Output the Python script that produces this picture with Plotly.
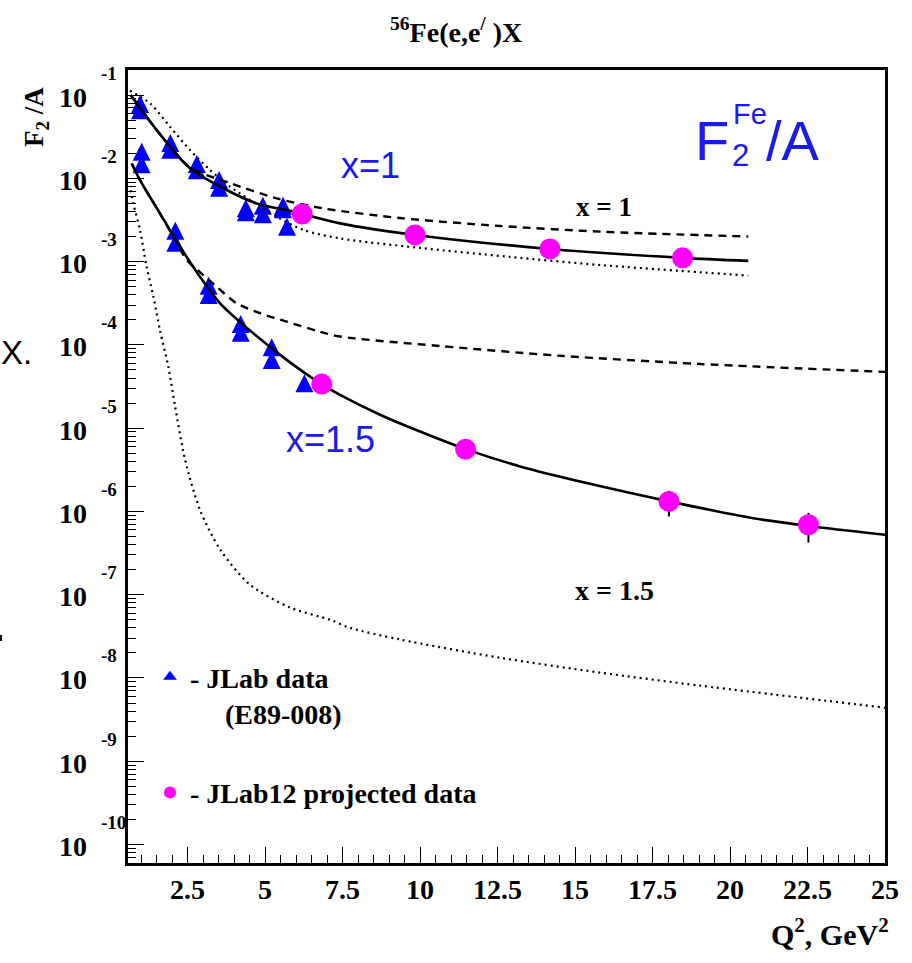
import math
import plotly.graph_objects as go

# ---------------- data ----------------
# JLab data (E89-008), blue triangles
jlab_q2 = [0.97, 0.97, 1.945, 1.945, 2.80, 2.80, 3.52, 3.52, 4.38, 4.38, 4.93, 4.93,
           5.58, 5.58, 5.71,
           1.02, 1.02, 2.106, 2.106, 3.18, 3.18, 4.215, 4.215, 5.215, 5.215, 6.27]
jlab_f2 = [0.0782, 0.0657, 0.0266, 0.0221, 0.0149, 0.0125, 0.00955, 0.00773,
           0.00438, 0.00391, 0.0047, 0.0037, 0.0047, 0.00426, 0.00263,
           0.0209, 0.01476, 0.00235, 0.00169, 5.14e-4, 3.98e-4, 1.78e-4, 1.40e-4,
           9.35e-5, 6.59e-5, 3.46e-5]

# JLab12 projected data, magenta circles
proj_q2 = [6.20, 9.84, 14.19, 18.47, 6.83, 11.47, 18.03, 22.53]
proj_f2 = [0.00373, 0.00209, 0.00142, 0.00111, 3.38e-5, 5.6e-6, 1.32e-6, 6.92e-7]
proj_err = [0, 0, 0, 0, 0, 0, 4.5e-7, 2.7e-7]

# x = 1 curves
x1_solid_q2 = [0.667, 1.506, 2.58, 3.654, 4.73, 5.91, 7.42, 9.84, 14.19, 18.48, 20.59]
x1_solid_f2 = [0.1, 0.038, 0.0132, 0.0076, 0.0050, 0.0040, 0.00288, 0.00209, 0.00142, 0.00111, 0.00102]
x1_dash_q2 = [0.667, 1.506, 2.58, 3.87, 5.38, 6.87, 9.35, 12.58, 15.81, 20.59]
x1_dash_f2 = [0.1, 0.038, 0.0136, 0.00879, 0.00575, 0.00436, 0.00334, 0.00268, 0.00229, 0.00200]
x1_dot_q2 = [0.645, 1.29, 1.935, 2.58, 3.225, 3.87, 4.515, 5.375, 6.235, 7.42, 10.0, 12.9, 15.81, 20.59]
x1_dot_f2 = [0.1127, 0.0795, 0.0417, 0.0219, 0.01259, 0.00794, 0.0055, 0.00347, 0.0024, 0.0019,
             0.00146, 0.00114, 0.00091, 0.00068]

# x = 1.5 curves
x15_solid_q2 = [0.70, 0.967, 1.61, 2.26, 2.90, 3.55, 4.62, 5.70, 6.77, 7.42, 8.71, 10.0, 11.47,
                13.23, 15.38, 18.03, 20.75, 22.53, 25.0]
x15_solid_f2 = [0.0151, 0.00955, 0.0038, 0.00151, 6.6e-4, 3.16e-4, 1.38e-4, 6.6e-5, 3.47e-5, 2.51e-5,
                1.45e-5, 9.1e-6, 5.6e-6, 3.47e-6, 2.19e-6, 1.32e-6, 8.3e-7, 6.7e-7, 5.25e-7]
x15_dash_q2 = [0.70, 0.967, 1.61, 2.10, 2.47, 2.90, 3.44, 4.085, 4.84, 5.70, 6.77, 7.42, 10.64,
               14.52, 19.03, 25.0]
x15_dash_f2 = [0.0151, 0.00955, 0.0038, 0.00182, 0.00105, 7.5e-4, 5.0e-4, 3.16e-4, 2.4e-4, 1.9e-4,
               1.44e-4, 1.26e-4, 9.7e-5, 7.4e-5, 5.9e-5, 4.74e-5]
x15_dot_q2 = [0.667, 0.75, 0.967, 1.18, 1.40, 1.61, 1.88, 2.10, 2.42, 2.90, 3.55, 4.515, 5.81,
              7.10, 7.74, 9.35, 12.58, 15.81, 19.03, 25.0]
x15_dot_f2 = [0.0072, 0.0050, 0.0024, 8.7e-4, 3.8e-4, 1.5e-4, 5.5e-5, 1.82e-5, 4.2e-6, 1.05e-6,
              3.5e-7, 1.32e-7, 7.0e-8, 5.0e-8, 4.0e-8, 2.9e-8, 1.75e-8, 1.16e-8, 8.1e-9, 4.4e-9]

x_ticks = [2.5, 5, 7.5, 10, 12.5, 15, 17.5, 20, 22.5, 25]
x_tick_text = ["2.5", "5", "7.5", "10", "12.5", "15", "17.5", "20", "22.5", "25"]
y_exponents = [-1, -2, -3, -4, -5, -6, -7, -8, -9, -10]

# ---------------- figure ----------------
SERIF = "Liberation Serif"
SANS = "Liberation Sans"
BLUE = "#0000ff"
TEXTBLUE = "#1a1aee"
MAGENTA = "#ff00ff"
TRI = 18  # triangle marker size (px)

fig = go.Figure()

# upward triangle centred on the point: arrow-down rotated 180 deg, shifted by half its size
fig.add_trace(go.Scatter(
    x=jlab_q2, y=jlab_f2, mode="markers", showlegend=False,
    marker=dict(symbol="arrow-down", angle=180, standoff=TRI / 2, size=TRI, color=BLUE,
                line=dict(width=0))))

line_specs = [
    (x1_solid_q2, x1_solid_f2, "solid", 2.6),
    (x1_dash_q2, x1_dash_f2, "8px,6px", 2.4),
    (x1_dot_q2, x1_dot_f2, "2px,4px", 2.2),
    (x15_solid_q2, x15_solid_f2, "solid", 2.6),
    (x15_dash_q2, x15_dash_f2, "8px,6px", 2.4),
    (x15_dot_q2, x15_dot_f2, "2px,4px", 2.2),
]
for xs, ys, dash, w in line_specs:
    fig.add_trace(go.Scatter(x=xs, y=ys, mode="lines", showlegend=False,
                             line=dict(color="black", width=w, dash=dash, shape="spline", smoothing=0.8),
                             hoverinfo="skip"))

fig.add_trace(go.Scatter(
    x=proj_q2, y=proj_f2, mode="markers", showlegend=False,
    marker=dict(symbol="circle", size=21, color=MAGENTA, line=dict(width=0)),
    error_y=dict(type="data", array=proj_err, color="black", thickness=2, width=0)))

# legend entries
fig.add_trace(go.Scatter(
    x=[None], y=[None], mode="markers",
    name="- JLab data<br>\u00a0\u00a0\u00a0\u00a0\u00a0(E89-008)",
    marker=dict(symbol="triangle-up", size=16, color=BLUE, line=dict(width=0)),
    legendgroup="a"))
fig.add_trace(go.Scatter(
    x=[None], y=[None], mode="markers", name="- JLab12 projected data",
    marker=dict(symbol="circle", size=18, color=MAGENTA, line=dict(width=0)),
    legendgroup="b"))

ymin, ymax = math.log10(6e-11), math.log10(0.2)

fig.update_xaxes(
    range=[0.58, 25], showline=True, linecolor="black", linewidth=2.5, mirror=True,
    ticks="inside", ticklen=16, tickwidth=1.2, tickcolor="black",
    tickvals=x_ticks, ticktext=x_tick_text,
    tickfont=dict(family=SERIF, size=28, color="black", weight="bold"),
    minor=dict(ticks="inside", ticklen=8, tickwidth=1.2, tickcolor="black", dtick=0.5, tick0=0, showgrid=False),
    showgrid=False, zeroline=False)

fig.update_yaxes(
    type="log", range=[ymin, ymax], showline=True, linecolor="black", linewidth=2.5, mirror=True,
    ticks="inside", ticklen=16, tickwidth=1.2, tickcolor="black",
    tickvals=[10 ** e for e in y_exponents], showticklabels=False,
    minor=dict(ticks="inside", ticklen=8, tickwidth=1.2, tickcolor="black", dtick="D1", showgrid=False),
    showgrid=False, zeroline=False)


def px(xp):
    return (xp - 128) / 757.0


def py(yp):
    return (863 - yp) / 793.0


def note(x, y, text, size, family, color="black", xanchor="center", **kw):
    d = dict(x=px(x), y=py(y), xref="paper", yref="paper", text=text, showarrow=False,
             xanchor=xanchor, yanchor="middle", font=dict(family=family, size=size, color=color))
    d.update(kw)
    return d


ann = []
# y tick labels (10 with exponent)
for e in y_exponents:
    ann.append(dict(x=-0.051, y=e, xref="paper", yref="y", text="<b>10</b>", showarrow=False,
                    xanchor="right", yanchor="middle", yshift=-2,
                    font=dict(family=SERIF, size=28, color="black")))
    ann.append(dict(x=-0.038, y=e, xref="paper", yref="y", text="<b>%d</b>" % e, showarrow=False,
                    xanchor="left", yanchor="middle", yshift=22,
                    font=dict(family=SERIF, size=19, color="black")))

ann.append(note(456, 31, "<b><sup>56</sup>Fe(e,e<sup>/</sup> )X</b>", 28, SERIF))
ann.append(note(36, 117, "<b>F<sub>2</sub> /A</b>", 27, SERIF, textangle=-90))
ann.append(note(891, 932, "<b>Q<sup>2</sup>, GeV<sup>2</sup></b>", 30, SERIF, xanchor="right"))
ann.append(note(370, 166, "x=1", 36, SANS, TEXTBLUE))
ann.append(note(330, 440, "x=1.5", 36, SANS, TEXTBLUE))
ann.append(note(731, 140, "F", 56, SANS, TEXTBLUE, xanchor="right"))
ann.append(note(731, 114, "Fe", 29, SANS, TEXTBLUE, xanchor="left"))
ann.append(note(730, 156, "2", 31, SANS, TEXTBLUE, xanchor="left"))
ann.append(note(764, 140, "/A", 56, SANS, TEXTBLUE, xanchor="left"))
ann.append(note(604, 207, "<b>x = 1</b>", 27, SERIF))
ann.append(note(614, 590, "<b>x = 1.5</b>", 28, SERIF))
ann.append(note(0, 352, "X.", 33, SANS, xanchor="left", borderpad=0))

fig.update_layout(
    width=912, height=963,
    margin=dict(l=128, r=27, t=70, b=100),
    paper_bgcolor="white", plot_bgcolor="white",
    annotations=ann,
    shapes=[dict(type="rect", xref="paper", yref="paper", x0=px(0), x1=px(2), y0=py(641), y1=py(635),
                 fillcolor="black", line=dict(width=0))],
    showlegend=True,
    legend=dict(x=px(150), y=py(652), xanchor="left", yanchor="top", bgcolor="rgba(0,0,0,0)",
                font=dict(family=SERIF, size=28, color="black", weight="bold"),
                valign="top", tracegroupgap=40, itemsizing="constant"),
)

fig.write_html("out.html")
